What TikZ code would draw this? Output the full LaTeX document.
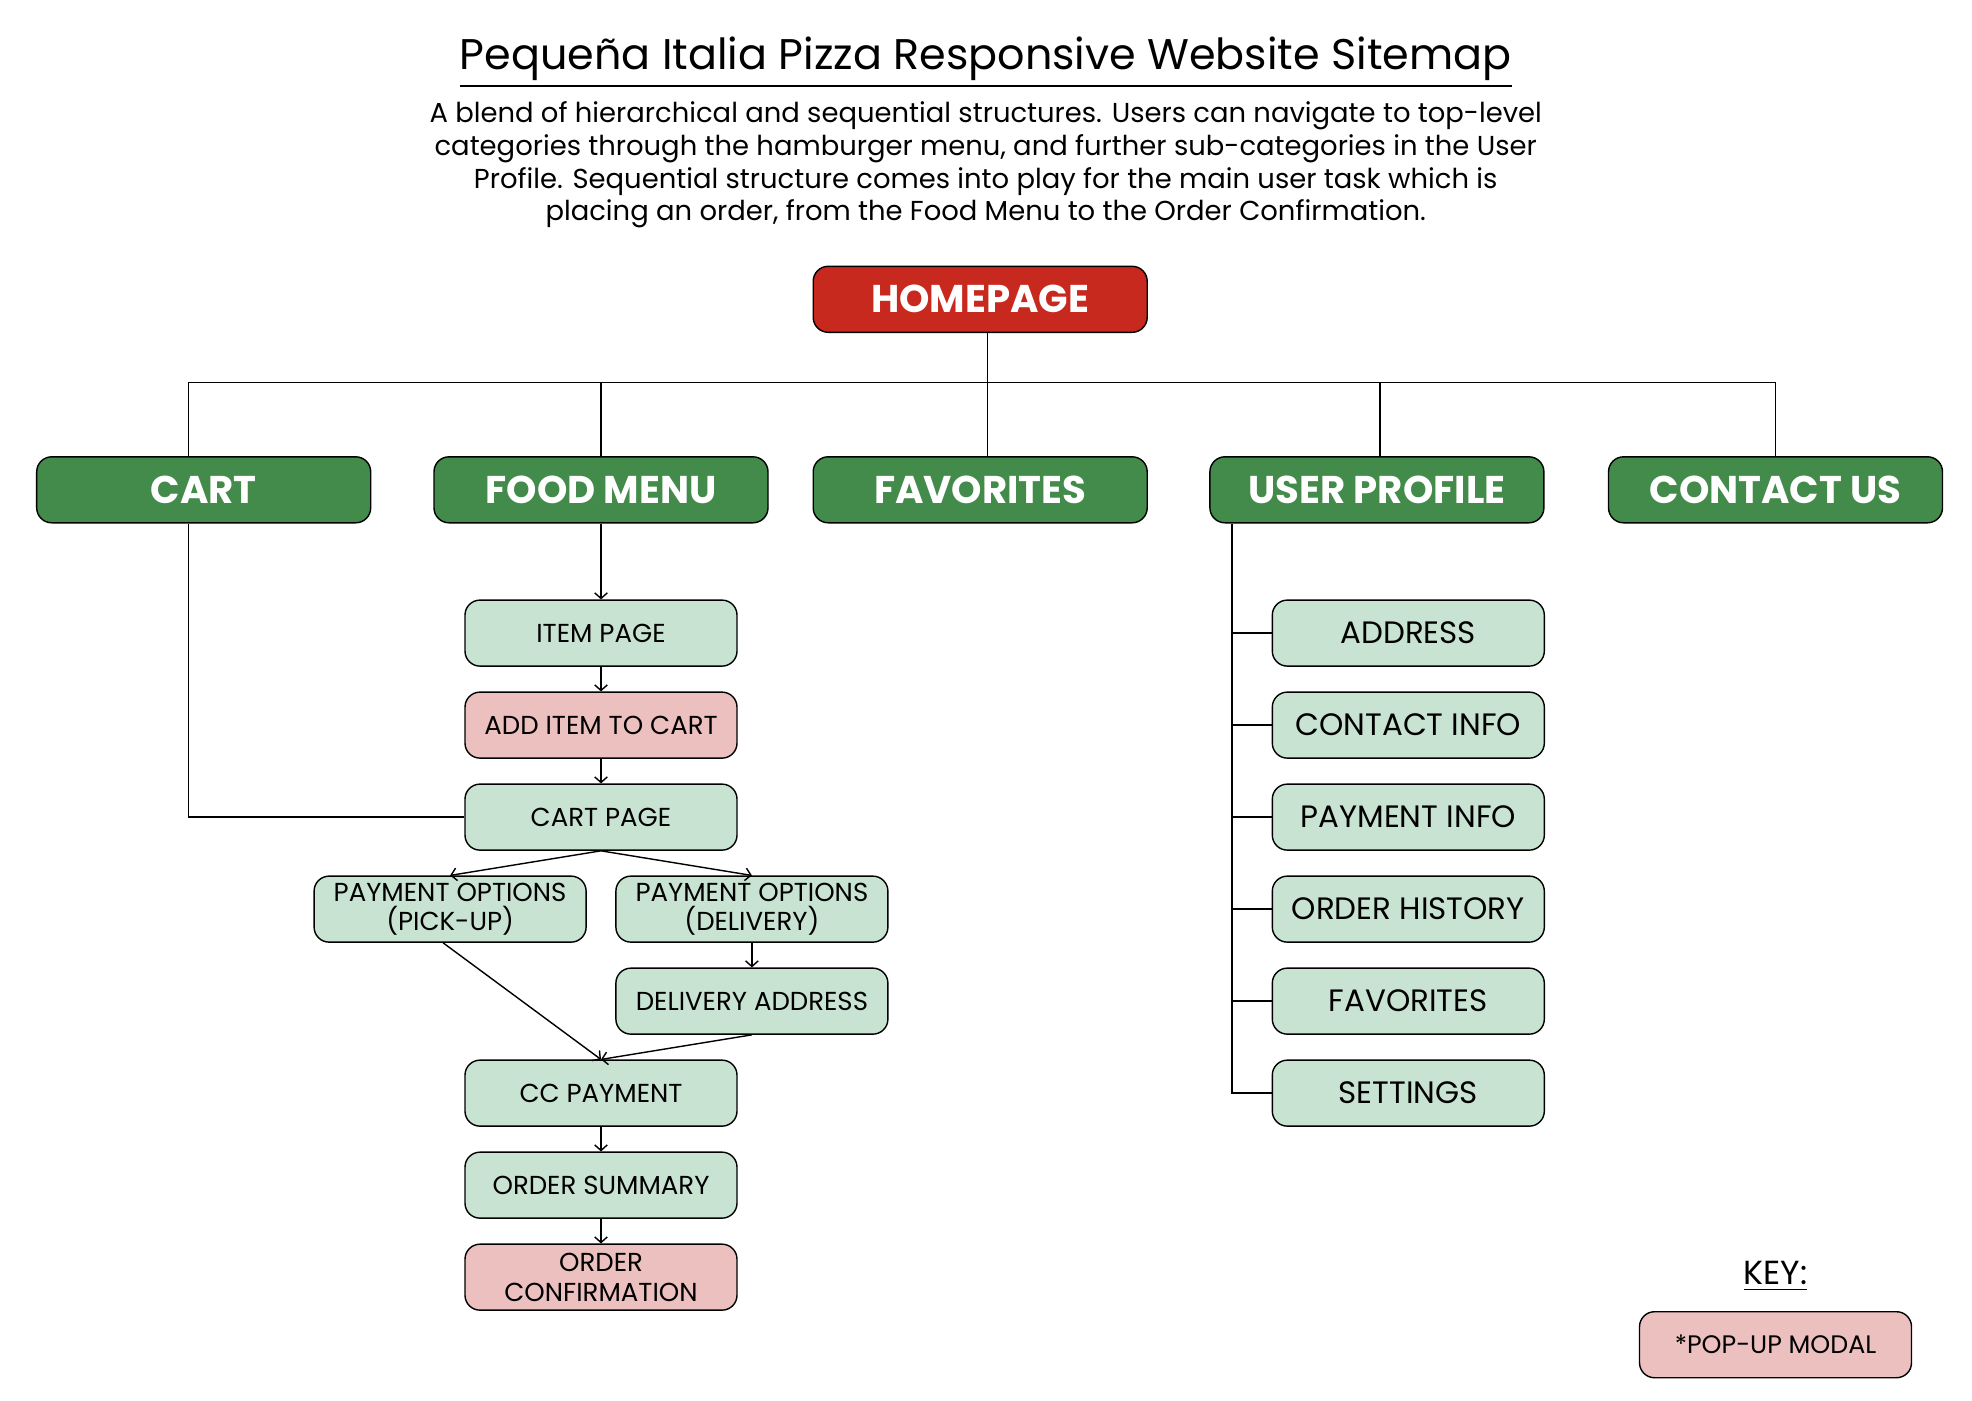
\documentclass[tikz,border=0pt]{standalone}
\usepackage{fontspec}
\setmainfont{Poppins}
\usepackage{tikz}
\usetikzlibrary{arrows.meta, positioning}
\definecolor{homered}{HTML}{C8291E}
\definecolor{topgreen}{HTML}{438B4A}
\definecolor{pagegreen}{HTML}{C8E3D2}
\definecolor{modalpink}{HTML}{EDC0C0}
\tikzstyle{homebox} = [rectangle, rounded corners=0.15cm, minimum width=3.34cm, minimum height=0.66cm, inner sep=0pt, text centered, draw=black, fill=homered, text=white, font=\fontsize{11}{13}\selectfont\bfseries]
\tikzstyle{topbox} = [homebox, fill=topgreen]
\tikzstyle{pagebox} = [rectangle, rounded corners=0.15cm, minimum width=2.72cm, minimum height=0.66cm, inner sep=0pt, text centered, align=center, draw=black, fill=pagegreen, font=\fontsize{7.4}{8.4}\selectfont]
\tikzstyle{modalbox} = [pagebox, fill=modalpink]
\tikzstyle{profilebox} = [pagebox, font=\fontsize{8.8}{10}\selectfont]
\tikzstyle{arrow} = [->, >={Straight Barb[length=1.6pt,width=3.6pt]}]

\begin{document}
\begin{tikzpicture}[node distance=0.246cm]
		\useasboundingbox (0,0) rectangle (19.72,-14.0);
		\node (title) at (9.857,-0.627) [font=\fontsize{12.2}{14}\selectfont] {\underline{Pequeña Italia Pizza Responsive Website Sitemap}};
		\node (blurb) at (9.857,-1.651) [align=center, font=\fontsize{7.8}{9.3}\selectfont] {A blend of hierarchical and sequential structures. Users can navigate to top-level\\categories through the hamburger menu, and further sub-categories in the User\\Profile. Sequential structure comes into play for the main user task which is\\placing an order, from the Food Menu to the Order Confirmation.};

		\node (home) at (9.802,-2.993) [homebox] {HOMEPAGE};
		\node (cart) at (2.037,-4.898) [topbox] {CART};
		\node (food) at (6.010,-4.898) [topbox] {FOOD MENU};
		\node (fav) at (9.802,-4.898) [topbox] {FAVORITES};
		\node (user) at (13.769,-4.898) [topbox] {USER PROFILE};
		\node (contact) at (17.755,-4.898) [topbox] {CONTACT US};

		% order flow
		\node (item) at (6.010,-6.331) [pagebox] {ITEM PAGE};
		\node (additem) [modalbox, below=of item] {ADD ITEM TO CART};
		\node (cartpage) [pagebox, below=of additem] {CART PAGE};
		\node (pickup) [pagebox, below=of cartpage, xshift=-1.509cm] {PAYMENT OPTIONS\\(PICK-UP)};
		\node (delopt) [pagebox, below=of cartpage, xshift=1.509cm] {PAYMENT OPTIONS\\(DELIVERY)};
		\node (deladdr) [pagebox, below=of delopt] {DELIVERY ADDRESS};
		\node (ccpay) [pagebox, below=of deladdr, xshift=-1.509cm] {CC PAYMENT};
		\node (summary) [pagebox, below=of ccpay] {ORDER SUMMARY};
		\node (confirm) [modalbox, below=of summary] {ORDER\\CONFIRMATION};

		% user profile pages
		\node (address) at (14.083,-6.331) [profilebox] {ADDRESS};
		\node (contactinfo) [profilebox, below=of address] {CONTACT INFO};
		\node (payinfo) [profilebox, below=of contactinfo] {PAYMENT INFO};
		\node (history) [profilebox, below=of payinfo] {ORDER HISTORY};
		\node (favpage) [profilebox, below=of history] {FAVORITES};
		\node (settings) [profilebox, below=of favpage] {SETTINGS};

		% key
		\node (keylabel) at (17.755,-12.762) [font=\fontsize{9.5}{11}\selectfont] {\underline{KEY:}};
		\node (keybox) at (17.755,-13.447) [modalbox, font=\fontsize{7.2}{8}\selectfont] {*POP-UP MODAL};

		\coordinate (bus) at ([xshift=0.07cm]home.south |- 0,-3.823);
		\draw ([xshift=0.07cm]home.south) -- (bus);
		\draw (bus) -| ([xshift=-0.15cm]cart.north);
		\draw (bus) -| ([xshift=0.07cm]fav.north);
		\draw (bus) -| ([xshift=0.03cm]user.north);
		\foreach \n in {food,contact}
			\draw (bus) -| (\n.north);

		\draw ([xshift=-0.15cm]cart.south) |- (cartpage.west);
		\draw [arrow] (food) -- (item);
		\draw [arrow] (item) -- (additem);
		\draw [arrow] (additem) -- (cartpage);
		\draw [arrow] (cartpage.south) -- (pickup.north);
		\draw [arrow] (cartpage.south) -- (delopt.north);
		\draw [arrow] (delopt) -- (deladdr);
		\draw [arrow] ([xshift=-0.07cm]pickup.south) -- (ccpay.north);
		\draw [arrow] (deladdr.south) -- (ccpay.north);
		\draw [arrow] (ccpay) -- (summary);
		\draw [arrow] (summary) -- (confirm);

		\coordinate (spine) at ([xshift=0.227cm]user.south west);
		\draw (spine) |- (settings.west);
		\foreach \n in {address,contactinfo,payinfo,history,favpage}
			\draw (\n.west) -- (\n.west -| spine);
\end{tikzpicture}
\end{document}
